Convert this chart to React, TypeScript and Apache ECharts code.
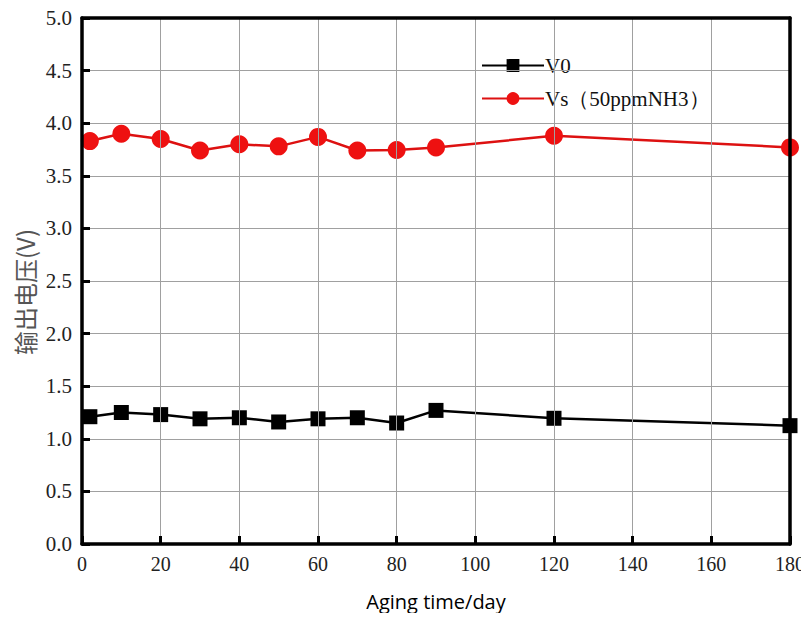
import React, { useEffect, useRef } from "react";
import * as echarts from "echarts";

const days = [2, 10, 20, 30, 40, 50, 60, 70, 80, 90, 120, 180];
const v0 = [1.21, 1.25, 1.23, 1.19, 1.2, 1.16, 1.19, 1.2, 1.15, 1.27, 1.195, 1.125];
const vs = [3.83, 3.9, 3.85, 3.74, 3.8, 3.78, 3.87, 3.74, 3.745, 3.77, 3.88, 3.77];
const seriesNames = ["V0", "Vs（50ppmNH3）"];
const xName = "Aging time/day";
const yName = "输出电压(V)";

export default function App() {
  const ref = useRef<HTMLDivElement>(null);
  useEffect(() => {
    if (!ref.current) return;
    const chart = echarts.init(ref.current, undefined, { renderer: "svg" });
    const serif = "Liberation Serif";
    const frameAxis = {
      type: "value",
      axisLine: { show: true, onZero: false, lineStyle: { color: "#000", width: 3.5 } },
      axisTick: { show: false },
      axisLabel: { show: false },
      splitLine: { show: false },
    };
    chart.setOption({
      animation: false,
      backgroundColor: "#fff",
      textStyle: { fontFamily: serif },
      grid: {
        left: 82,
        right: 19,
        top: 18,
        bottom: 77,
        containLabel: false,
        outerBoundsMode: "none",
      },
      legend: {
        orient: "vertical",
        left: 476,
        top: 50,
        itemWidth: 62,
        itemHeight: 16,
        itemGap: 12,
        textStyle: { fontFamily: serif, fontSize: 21, color: "#111", padding: [0, 0, 0, -4] },
        data: seriesNames,
      },
      graphic: [
        {
          type: "text",
          x: 24,
          y: 292,
          rotation: Math.PI / 2,
          style: {
            text: yName,
            fontFamily: "Noto Sans CJK SC",
            fontSize: 24,
            fill: "#555",
            align: "center",
            verticalAlign: "middle",
          },
        },
      ],
      xAxis: [
        {
          type: "value",
          min: 0,
          max: 180,
          interval: 20,
          name: xName,
          nameLocation: "middle",
          nameGap: 47,
          nameTextStyle: { fontFamily: "Open Sans", fontSize: 20, color: "#000" },
          axisLine: { show: true, onZero: false, lineStyle: { color: "#000", width: 3.5 } },
          axisTick: { show: true, inside: true, length: 8, lineStyle: { color: "#000", width: 3 } },
          axisLabel: { fontFamily: serif, fontSize: 20, color: "#222", margin: 10 },
          splitLine: { show: true, showMinLine: false, showMaxLine: false, lineStyle: { color: "#a0a0a0", width: 1 } },
          z: 10,
        },
        { ...frameAxis, position: "top", min: 0, max: 180, z: 10 },
      ],
      yAxis: [
        {
          type: "value",
          min: 0,
          max: 5,
          interval: 0.5,
          axisLine: { show: true, onZero: false, lineStyle: { color: "#000", width: 3.5 } },
          axisTick: { show: true, inside: true, length: 8, lineStyle: { color: "#000", width: 3 } },
          axisLabel: {
            fontFamily: serif,
            fontSize: 21,
            color: "#222",
            margin: 10,
            formatter: (v: number) => v.toFixed(1),
          },
          splitLine: { show: true, showMinLine: false, showMaxLine: false, lineStyle: { color: "#a0a0a0", width: 1 } },
          z: 10,
        },
        { ...frameAxis, position: "right", min: 0, max: 5, z: 10 },
      ],
      series: [
        {
          name: seriesNames[0],
          type: "line",
          data: days.map((d, i) => [d, v0[i]]),
          symbol: "rect",
          symbolSize: 15,
          lineStyle: { color: "#000", width: 2.5 },
          itemStyle: { color: "#000" },
          clip: false,
          z: 3,
        },
        {
          name: seriesNames[1],
          type: "line",
          data: days.map((d, i) => [d, vs[i]]),
          symbol: "circle",
          symbolSize: 18,
          lineStyle: { color: "#d11", width: 2.5 },
          itemStyle: { color: "#ee1111" },
          clip: false,
          z: 3,
        },
      ],
    });
    return () => chart.dispose();
  }, []);
  return <div ref={ref} style={{ width: 809, height: 621, margin: -8 }} />;
}
